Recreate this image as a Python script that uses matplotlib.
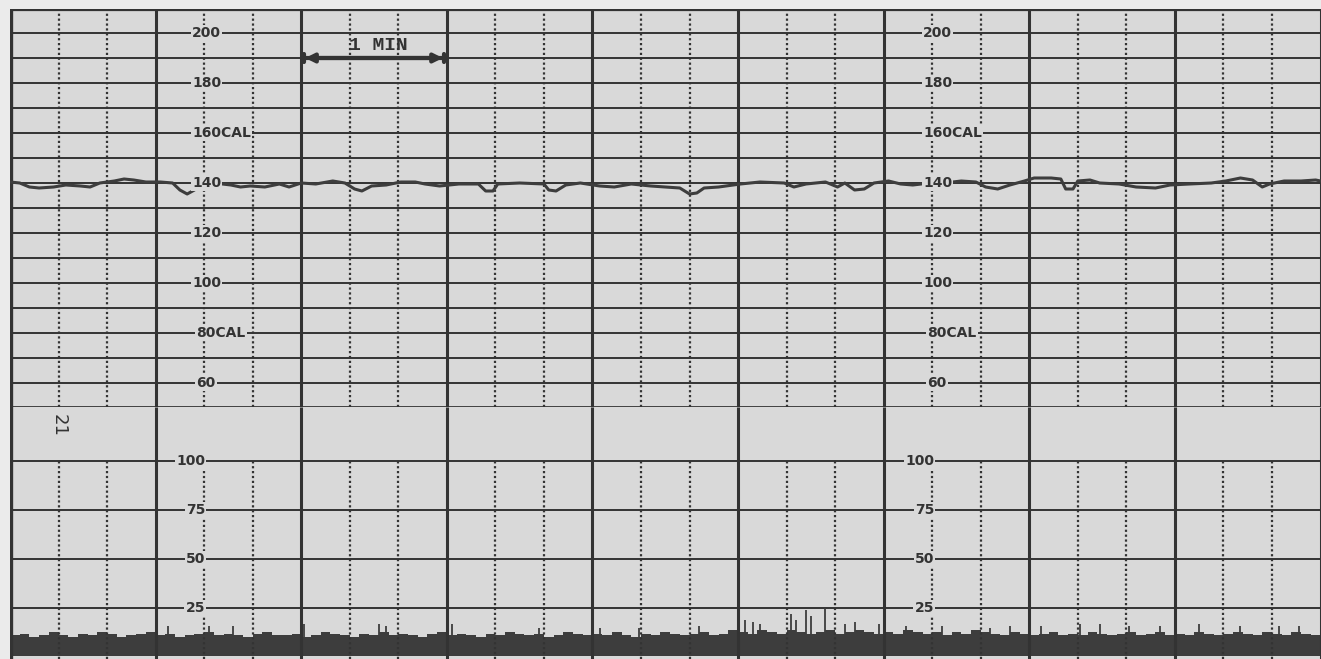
import numpy as np
import matplotlib.pyplot as plt

# colours of the scanned strip
PAPER = "#d9d9d9"
MARGIN = "#ebebeb"
GRID = "#333333"
INK = "#3d3d3d"

# fetal heart rate trace (time in s, bpm)
fhr_time = [0, 4, 8, 12, 18, 23, 29, 33, 37, 43, 47, 51, 56, 62, 67, 70, 73, 76, 78,
            84, 91, 95, 99, 105, 111, 115, 120, 126, 133, 138, 142, 145, 149, 155,
            161, 167, 171, 177, 185, 193, 196, 199, 201, 210, 220, 222, 225, 229,
            235, 243, 249, 256, 264, 276, 280, 283, 286, 292, 301, 309, 319, 323,
            328, 336, 341, 344, 348, 352, 356, 362, 367, 372, 379, 385, 392, 398,
            402, 407, 412, 418, 422, 429, 433, 435, 438, 440, 445, 449, 457, 464,
            472, 478, 486, 495, 501, 507, 512, 516, 519, 525, 532, 538, 540]
fhr_bpm = [140.4, 140, 138.4, 138, 138.4, 139.2, 138.8, 138.4, 140, 140.8, 141.6,
           141.2, 140.4, 140.4, 140, 137.2, 135.6, 137.2, 140, 140, 139.2, 138.4,
           138.8, 138.4, 139.6, 138.4, 140, 139.6, 140.8, 140, 137.6, 136.8, 138.8,
           139.2, 140.4, 140.4, 139.6, 138.8, 139.6, 139.6, 136.8, 136.8, 139.6,
           140, 139.6, 137.2, 136.8, 139.2, 140, 138.8, 138.4, 139.6, 138.8, 138,
           135.6, 136, 138, 138.4, 139.6, 140.4, 140, 138.4, 139.6, 140.4, 138.4,
           140, 137.2, 137.6, 140, 140.8, 139.6, 139.2, 140, 140, 140.8, 140.4,
           138.4, 137.6, 139.2, 140.8, 142, 142, 141.6, 137.6, 137.6, 140.8, 141.2,
           140, 139.6, 138.4, 138, 139.2, 139.6, 140, 140.8, 142, 141.2, 138.4,
           139.6, 140.8, 140.8, 141.2, 140.8]

# uterine activity band, one level every 4 s
ua_time = np.arange(0, 544, 4)
ua_level = [11, 12, 10, 11, 13, 11, 10, 12, 11, 13,
            12, 10, 11, 12, 13, 11, 12, 10, 11, 12,
            13, 11, 12, 11, 10, 12, 13, 11, 11, 12,
            10, 11, 13, 12, 11, 10, 12, 11, 13, 11,
            12, 11, 10, 12, 13, 11, 12, 11, 10, 12,
            11, 13, 12, 11, 12, 10, 11, 13, 12, 11,
            12, 11, 13, 11, 10, 12, 11, 13, 12, 11,
            12, 13, 11, 12, 14, 13, 12, 14, 13, 12,
            14, 13, 12, 13, 14, 12, 13, 14, 13, 12,
            13, 12, 14, 13, 12, 13, 11, 13, 12, 14,
            13, 12, 11, 13, 12, 11, 12, 13, 11, 12,
            11, 13, 12, 11, 12, 13, 11, 12, 13, 11,
            12, 11, 13, 12, 11, 12, 13, 12, 11, 13,
            12, 11, 13, 12, 11, 12]
# short spikes standing out of the band
spike_time = [65, 82, 92, 121, 152, 155, 182, 218, 243, 259, 284, 303, 306, 309,
              322, 324, 328, 330, 336, 344, 348, 358, 369, 384, 404, 412, 425,
              441, 449, 461, 474, 490, 507, 523, 531]
spike_val = [16, 16, 16, 17, 17, 16, 17, 15, 15, 15, 16, 19, 18, 17, 22, 19,
             24, 21, 25, 17, 18, 17, 16, 16, 15, 16, 16, 17, 17, 16, 16, 17,
             16, 16, 16]

fhr_labels = ["200", "180", "160", "140", "120", "100", "80", "60"]
fhr_label_vals = [200, 180, 160, 140, 120, 100, 80, 60]
cal_vals = [160, 80]
ua_labels = ["100", "75", "50", "25"]
ua_label_vals = [100, 75, 50, 25]

PX = 60 / 145.6  # seconds per pixel
T_END = 540.2

fig = plt.figure(figsize=(13.21, 6.59), dpi=100, facecolor=MARGIN)
ax = fig.add_axes([10 / 1321, 1 - 407 / 659, 1311 / 1321, 398 / 659])
ua = fig.add_axes([10 / 1321, 0, 1311 / 1321, 252 / 659])

for a in (ax, ua):
    a.set_facecolor(PAPER)
    a.set_xlim(0, T_END)
    a.set_xticks([])
    a.set_yticks([])
    for s in a.spines.values():
        s.set_visible(False)

ax.set_ylim(50.4, 209.6)
ua.set_ylim(-1, 127.6)

# ---- FHR grid
minor_t = [t for t in range(20, 541, 20) if t % 60]
major_t = list(range(0, 541, 60))
ax.vlines(minor_t, 50.4, 209.6, color=GRID, lw=1.6, linestyles=(0, (1, 1.2)))
ax.hlines(range(60, 210, 10), 0, T_END, color=GRID, lw=1.4)
ax.vlines(major_t, 50.4, 209.6, color=GRID, lw=2.2)
ax.axhline(209.3, color=GRID, lw=1.6)
ax.axhline(50.6, color=GRID, lw=2.0)
ax.axvline(0.3, color=GRID, lw=2.4)

# ---- UA grid
ua.vlines(minor_t, -1, 100, color=GRID, lw=1.6, linestyles=(0, (1, 1.2)))
ua.hlines(ua_label_vals, 0, T_END, color=GRID, lw=1.4)
ua.vlines(major_t, -1, 127.6, color=GRID, lw=2.2)
ua.axvline(0.3, color=GRID, lw=2.4)

# scale labels, printed twice along the strip
for centre in (206, 937):
    tc = (centre - 10) * PX
    for lab, v in zip(fhr_labels, fhr_label_vals):
        txt = lab + ("CAL" if v in cal_vals else "")
        half = 14 if len(lab) == 3 else 9.5
        ax.text(tc - half * PX, v, txt, ha="left", va="center", fontsize=10,
                fontweight="bold", color=GRID,
                bbox=dict(boxstyle="square,pad=0.08", fc=PAPER, ec="none"))
for right in (205, 934):
    tr = (right - 10) * PX
    for lab, v in zip(ua_labels, ua_label_vals):
        ua.text(tr, v, lab, ha="right", va="center", fontsize=10,
                fontweight="bold", color=GRID,
                bbox=dict(boxstyle="square,pad=0.08", fc=PAPER, ec="none"))

# 1 MIN marker
ax.annotate("", xy=(120, 190), xytext=(180, 190),
            arrowprops=dict(arrowstyle="|-|,widthA=0.3,widthB=0.3", lw=3, color=GRID))
ax.annotate("", xy=(120.5, 190), xytext=(179.5, 190),
            arrowprops=dict(arrowstyle="<|-|>,head_length=0.5,head_width=0.25",
                            lw=3, color=GRID))
ax.text((378 - 10) * PX, 195.2, "1 MIN", ha="center", va="center", fontsize=14,
        fontweight="bold", family="Liberation Mono", color=GRID)

ua.text((59 - 10) * PX, 118, "21", rotation=-90, ha="center", va="center",
        fontsize=13, color=GRID)

# ---- traces
ax.plot(fhr_time, fhr_bpm, color=INK, lw=2.2, solid_joinstyle="round")
ua.fill_between(ua_time, 0.6, ua_level, step="post", color=INK, lw=0)
ua.vlines(spike_time, 5, spike_val, color=INK, lw=1.3)

fig.savefig("out.png", dpi=100, facecolor=MARGIN)
